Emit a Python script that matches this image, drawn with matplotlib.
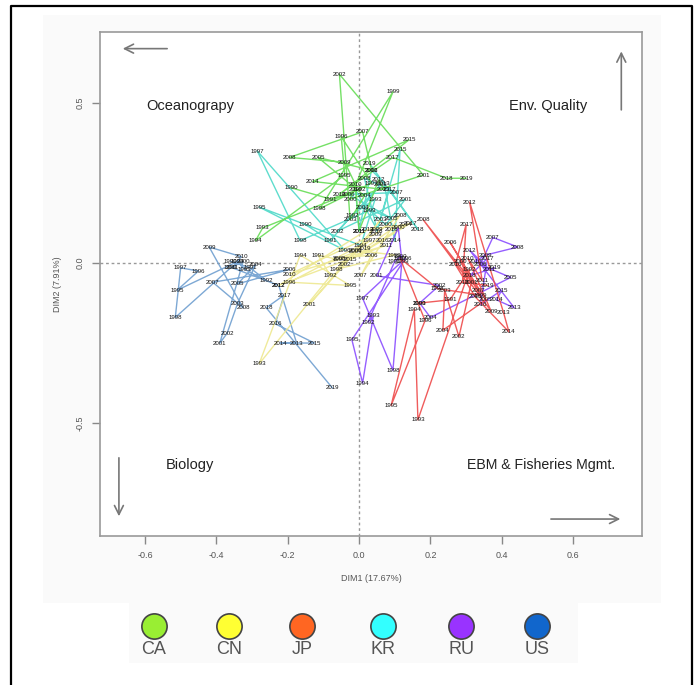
import matplotlib
matplotlib.use('Agg')
import matplotlib.pyplot as plt
from matplotlib.lines import Line2D
from matplotlib.patches import Rectangle

plt.rcParams['font.family'] = ['Liberation Sans', 'DejaVu Sans']

years = list(range(1990, 2020))

# positions of each country per year (DIM1, DIM2)
ca_x = [-0.19, -0.08, 0.0, -0.27, -0.29, -0.04, -0.05, 0.035, -0.11, 0.095,
        -0.025, 0.18, -0.055, -0.025, 0.015, -0.115, 0.035, 0.01, -0.195, -0.04,
        -0.01, 0.0, 0.055, 0.07, -0.13, 0.14, -0.055, 0.095, 0.245, 0.30]
ca_y = [0.235, 0.20, 0.23, 0.11, 0.07, 0.275, 0.395, 0.25, 0.17, 0.535,
        0.20, 0.275, 0.59, 0.135, 0.21, 0.33, 0.29, 0.41, 0.33, 0.315,
        0.245, 0.10, 0.26, 0.23, 0.255, 0.385, 0.215, 0.33, 0.265, 0.265]

kr_x = [-0.15, -0.08, -0.02, 0.045, 0.005, -0.28, -0.04, -0.285, -0.165, 0.03,
        0.075, 0.13, -0.06, 0.06, 0.01, 0.09, -0.03, 0.105, 0.015, 0.05,
        -0.01, 0.0, 0.035, 0.07, 0.10, 0.115, 0.05, 0.085, 0.165, 0.03]
kr_y = [0.12, 0.07, 0.15, 0.20, 0.055, 0.175, 0.04, 0.35, 0.07, 0.165,
        0.12, 0.20, 0.10, 0.245, 0.175, 0.14, 0.215, 0.22, 0.265, 0.105,
        0.23, 0.10, 0.29, 0.25, 0.07, 0.355, 0.10, 0.23, 0.105, 0.31]

cn_x = [-0.055, -0.115, -0.08, -0.28, -0.165, -0.025, -0.195, 0.03, -0.065, 0.10,
        -0.01, -0.14, -0.04, 0.06, -0.01, -0.055, 0.035, 0.005, 0.115, 0.045,
        -0.195, 0.075, -0.225, 0.025, 0.13, -0.025, 0.065, 0.145, 0.09, 0.015]
cn_y = [0.01, 0.025, -0.04, -0.315, 0.025, -0.07, -0.06, 0.07, -0.02, 0.025,
        0.04, -0.13, -0.005, 0.135, 0.035, 0.015, 0.025, -0.04, 0.15, 0.09,
        -0.035, 0.055, -0.07, 0.105, 0.12, 0.01, 0.07, 0.125, 0.105, 0.045]

us_x = [-0.36, -0.305, -0.26, -0.32, -0.34, -0.51, -0.45, -0.50, -0.515, -0.36,
        -0.325, -0.39, -0.37, -0.34, -0.29, -0.34, -0.195, -0.41, -0.325, -0.42,
        -0.33, -0.355, -0.225, -0.175, -0.22, -0.125, -0.235, -0.21, -0.26, -0.075]
us_y = [0.005, -0.015, -0.055, -0.02, 0.005, -0.085, -0.025, -0.015, -0.17, -0.015,
        0.005, -0.25, -0.22, -0.125, -0.005, -0.065, -0.02, -0.06, -0.14, 0.05,
        0.02, -0.015, -0.07, -0.25, -0.25, -0.25, -0.19, -0.10, -0.14, -0.39]

ru_x = [0.115, 0.10, 0.025, 0.04, 0.01, -0.02, 0.13, 0.01, 0.095, 0.12,
        0.11, 0.05, 0.225, 0.17, 0.20, 0.425, 0.34, 0.375, 0.445, 0.355,
        0.325, 0.365, 0.31, 0.435, 0.385, 0.40, 0.34, 0.36, 0.31, 0.38]
ru_y = [0.02, 0.005, -0.185, -0.165, -0.375, -0.24, 0.015, -0.11, -0.335, 0.005,
        0.11, -0.04, -0.07, -0.125, -0.17, -0.045, -0.005, 0.08, 0.05, 0.025,
        0.005, -0.02, 0.04, -0.14, -0.115, -0.085, -0.13, 0.015, -0.04, -0.015]

jp_x = [0.17, 0.255, 0.31, 0.165, 0.155, 0.09, 0.185, 0.115, 0.22, 0.34,
        0.285, 0.315, 0.28, 0.24, 0.235, 0.355, 0.255, 0.335, 0.18, 0.37,
        0.305, 0.345, 0.31, 0.405, 0.42, 0.325, 0.27, 0.30, 0.29, 0.36]
jp_y = [-0.125, -0.115, -0.02, -0.49, -0.145, -0.445, -0.18, 0.015, -0.08, -0.10,
        0.005, -0.06, -0.23, -0.085, -0.21, -0.115, 0.065, -0.085, 0.135, -0.15,
        0.015, -0.055, 0.19, -0.155, -0.215, -0.105, -0.005, 0.12, -0.06, -0.07]

countries = ['CA', 'CN', 'JP', 'KR', 'RU', 'US']
legend_colors = ['#99ee33', '#ffff33', '#ff6622', '#33ffff', '#9933ff', '#1166cc']

series = [
    (us_x, us_y, '#6f9fd0'),
    (kr_x, kr_y, '#4dd9c8'),
    (ca_x, ca_y, '#66dd55'),
    (cn_x, cn_y, '#eee890'),
    (ru_x, ru_y, '#8a4dff'),
    (jp_x, jp_y, '#ee4a4a'),
]

W, H = 697, 685
fig = plt.figure(figsize=(W / 100, H / 100), dpi=100)
fig.patch.set_facecolor('white')

# background layer in pixel coordinates
bg = fig.add_axes([0, 0, 1, 1], zorder=-1)
bg.set_xlim(0, W)
bg.set_ylim(H, 0)
bg.axis('off')
bg.add_patch(Rectangle((43, 15), 618, 588, color='#fafafa', lw=0))
bg.add_patch(Rectangle((129, 603), 449, 60, color='#fafafa', lw=0))

ax = fig.add_axes([100 / W, 1 - 536 / H, 542 / W, 504 / H])
ax.set_facecolor('white')

for xs, ys, col in series:
    ax.plot(xs, ys, color=col, lw=1.0, alpha=0.9, zorder=2)
for xs, ys, col in series:
    for yr, xv, yv in zip(years, xs, ys):
        ax.text(xv, yv, str(yr), fontsize=4.4, color='#111111',
                ha='center', va='center', zorder=3)

ax.axhline(0, color='#999999', lw=1, ls=(0, (2, 2)), zorder=1)
ax.axvline(0, color='#999999', lw=1, ls=(0, (2, 2)), zorder=1)

ax.set_xlim(-0.726, 0.793)
ax.set_ylim(-0.853, 0.722)
ax.set_xticks([-0.6, -0.4, -0.2, 0.0, 0.2, 0.4, 0.6])
ax.set_yticks([-0.5, 0.0, 0.5])
ax.set_xticklabels(['-0.6', '-0.4', '-0.2', '0.0', '0.2', '0.4', '0.6'])
ax.set_yticklabels(['-0.5', '0.0', '0.5'], rotation=90, va='center')
ax.tick_params(direction='out', length=6, width=1, color='#888888',
               labelcolor='#555555', labelsize=6.5, pad=5)
for sp in ax.spines.values():
    sp.set_color('#999999')
    sp.set_linewidth(1.2)
ax.set_xlabel('DIM1 (17.67%)', fontsize=6.5, color='#555555', labelpad=10)
ax.set_ylabel('DIM2 (7.91%)', fontsize=6.5, color='#555555', labelpad=10)

# quadrant labels
ax.text(-0.474, 0.49, 'Oceanograpy', fontsize=10.5, color='#222222', ha='center', va='center')
ax.text(0.53, 0.49, 'Env. Quality', fontsize=10.5, color='#222222', ha='center', va='center')
ax.text(-0.474, -0.63, 'Biology', fontsize=10.5, color='#222222', ha='center', va='center')
ax.text(0.51, -0.63, 'EBM & Fisheries Mgmt.', fontsize=10.2, color='#222222', ha='center', va='center')

arrow_kw = dict(arrowstyle='->', color='#777777', lw=1.2, mutation_scale=16)
ax.annotate('', xy=(-0.67, 0.67), xytext=(-0.53, 0.67), arrowprops=arrow_kw)
ax.annotate('', xy=(0.735, 0.67), xytext=(0.735, 0.47), arrowprops=arrow_kw)
ax.annotate('', xy=(-0.673, -0.80), xytext=(-0.673, -0.60), arrowprops=arrow_kw)
ax.annotate('', xy=(0.74, -0.80), xytext=(0.53, -0.80), arrowprops=arrow_kw)

# legend of countries
leg = fig.add_axes([0, 0, 1, 1], zorder=5)
leg.set_xlim(0, W)
leg.set_ylim(H, 0)
leg.axis('off')
leg_x = [154, 229, 302, 383, 461, 537]
for lx, name, col in zip(leg_x, countries, legend_colors):
    leg.scatter([lx], [626], s=330, color=col, edgecolor='#444444', lw=1.2)
    leg.text(lx, 650, name, fontsize=13, color='#555555', ha='center', va='center')

# outer frame
leg.add_line(Line2D([11, 11, 692, 692], [H + 5, 6, 6, H + 5], color='black', lw=1.6))

fig.savefig('out.png', dpi=100)
